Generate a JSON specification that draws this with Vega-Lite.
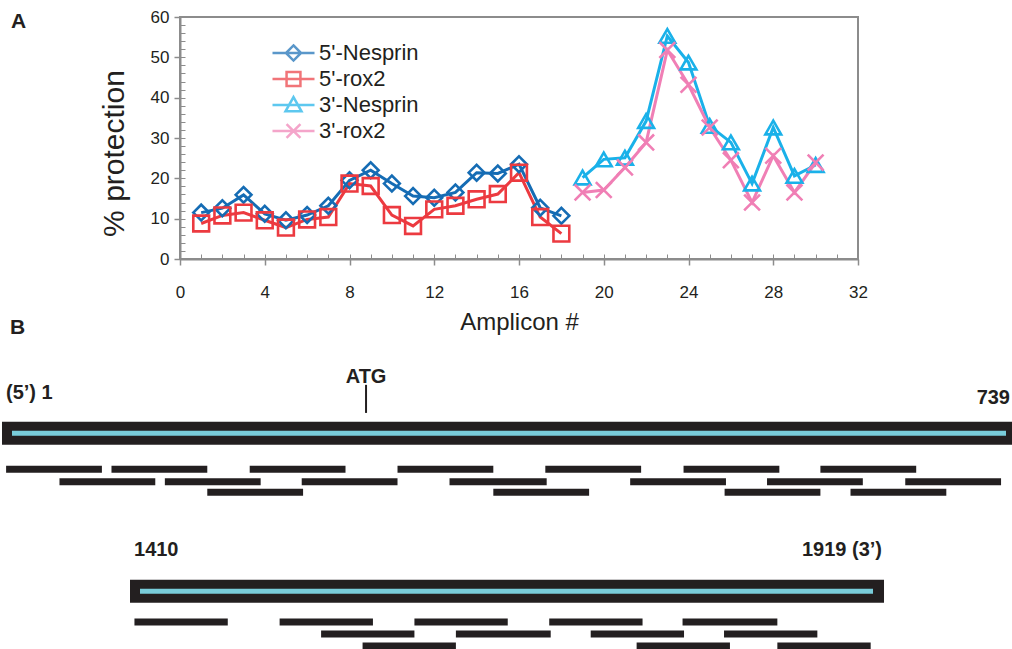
{
  "$schema": "https://vega.github.io/schema/vega-lite/v6.json",
  "padding": {"left": 0, "top": 7, "right": 0, "bottom": 0},
  "autosize": {"type": "pad"},
  "background": "white",
  "config": {"font": "Liberation Sans", "view": {"stroke": null}},
  "datasets": {
    "protection": [
      {"amplicon": 1, "series": "5'-Nesprin", "pct": 11.5},
      {"amplicon": 2, "series": "5'-Nesprin", "pct": 12.6},
      {"amplicon": 3, "series": "5'-Nesprin", "pct": 15.9},
      {"amplicon": 4, "series": "5'-Nesprin", "pct": 11.2},
      {"amplicon": 5, "series": "5'-Nesprin", "pct": 9.6},
      {"amplicon": 6, "series": "5'-Nesprin", "pct": 10.9},
      {"amplicon": 7, "series": "5'-Nesprin", "pct": 13.2},
      {"amplicon": 8, "series": "5'-Nesprin", "pct": 19.5},
      {"amplicon": 9, "series": "5'-Nesprin", "pct": 22.0},
      {"amplicon": 10, "series": "5'-Nesprin", "pct": 18.7},
      {"amplicon": 11, "series": "5'-Nesprin", "pct": 15.6},
      {"amplicon": 12, "series": "5'-Nesprin", "pct": 15.2},
      {"amplicon": 13, "series": "5'-Nesprin", "pct": 16.5},
      {"amplicon": 14, "series": "5'-Nesprin", "pct": 21.4},
      {"amplicon": 15, "series": "5'-Nesprin", "pct": 21.2},
      {"amplicon": 16, "series": "5'-Nesprin", "pct": 23.5},
      {"amplicon": 17, "series": "5'-Nesprin", "pct": 12.7},
      {"amplicon": 18, "series": "5'-Nesprin", "pct": 10.7},
      {"amplicon": 1, "series": "5'-rox2", "pct": 8.8},
      {"amplicon": 2, "series": "5'-rox2", "pct": 10.8},
      {"amplicon": 3, "series": "5'-rox2", "pct": 11.5},
      {"amplicon": 4, "series": "5'-rox2", "pct": 9.6},
      {"amplicon": 5, "series": "5'-rox2", "pct": 7.8},
      {"amplicon": 6, "series": "5'-rox2", "pct": 9.8},
      {"amplicon": 7, "series": "5'-rox2", "pct": 10.4},
      {"amplicon": 8, "series": "5'-rox2", "pct": 18.7},
      {"amplicon": 9, "series": "5'-rox2", "pct": 18.1},
      {"amplicon": 10, "series": "5'-rox2", "pct": 10.9},
      {"amplicon": 11, "series": "5'-rox2", "pct": 8.2},
      {"amplicon": 12, "series": "5'-rox2", "pct": 12.3},
      {"amplicon": 13, "series": "5'-rox2", "pct": 13.2},
      {"amplicon": 14, "series": "5'-rox2", "pct": 14.8},
      {"amplicon": 15, "series": "5'-rox2", "pct": 16.1},
      {"amplicon": 16, "series": "5'-rox2", "pct": 21.4},
      {"amplicon": 17, "series": "5'-rox2", "pct": 10.4},
      {"amplicon": 18, "series": "5'-rox2", "pct": 6.3},
      {"amplicon": 19, "series": "3'-Nesprin", "pct": 20.2},
      {"amplicon": 20, "series": "3'-Nesprin", "pct": 24.7},
      {"amplicon": 21, "series": "3'-Nesprin", "pct": 25.1},
      {"amplicon": 22, "series": "3'-Nesprin", "pct": 34.2},
      {"amplicon": 23, "series": "3'-Nesprin", "pct": 55.3},
      {"amplicon": 24, "series": "3'-Nesprin", "pct": 48.7},
      {"amplicon": 25, "series": "3'-Nesprin", "pct": 33.0},
      {"amplicon": 26, "series": "3'-Nesprin", "pct": 28.9},
      {"amplicon": 27, "series": "3'-Nesprin", "pct": 18.7},
      {"amplicon": 28, "series": "3'-Nesprin", "pct": 32.6},
      {"amplicon": 29, "series": "3'-Nesprin", "pct": 20.6},
      {"amplicon": 30, "series": "3'-Nesprin", "pct": 23.3},
      {"amplicon": 19, "series": "3'-rox2", "pct": 16.5},
      {"amplicon": 20, "series": "3'-rox2", "pct": 17.1},
      {"amplicon": 21, "series": "3'-rox2", "pct": 22.7},
      {"amplicon": 22, "series": "3'-rox2", "pct": 28.9},
      {"amplicon": 23, "series": "3'-rox2", "pct": 51.8},
      {"amplicon": 24, "series": "3'-rox2", "pct": 43.2},
      {"amplicon": 25, "series": "3'-rox2", "pct": 32.6},
      {"amplicon": 26, "series": "3'-rox2", "pct": 24.5},
      {"amplicon": 27, "series": "3'-rox2", "pct": 14.0},
      {"amplicon": 28, "series": "3'-rox2", "pct": 25.6},
      {"amplicon": 29, "series": "3'-rox2", "pct": 16.5},
      {"amplicon": 30, "series": "3'-rox2", "pct": 23.9}
    ],
    "sequences": [
      {"seq": "5'", "start": 1, "end": 739, "lane": 0},
      {"seq": "3'", "start": 1410, "end": 1919, "lane": 13.18}
    ],
    "amplicons": [
      {"seq": "5'", "amplicon": 1, "start": 4, "end": 74, "lane": 3},
      {"seq": "5'", "amplicon": 2, "start": 43, "end": 113, "lane": 4.05},
      {"seq": "5'", "amplicon": 3, "start": 81, "end": 151, "lane": 3},
      {"seq": "5'", "amplicon": 4, "start": 120, "end": 190, "lane": 4.05},
      {"seq": "5'", "amplicon": 5, "start": 151, "end": 221, "lane": 4.92},
      {"seq": "5'", "amplicon": 6, "start": 182, "end": 252, "lane": 3},
      {"seq": "5'", "amplicon": 7, "start": 220, "end": 290, "lane": 4.05},
      {"seq": "5'", "amplicon": 8, "start": 290, "end": 360, "lane": 3},
      {"seq": "5'", "amplicon": 9, "start": 328, "end": 399, "lane": 4.05},
      {"seq": "5'", "amplicon": 10, "start": 360, "end": 430, "lane": 4.92},
      {"seq": "5'", "amplicon": 11, "start": 398, "end": 468, "lane": 3},
      {"seq": "5'", "amplicon": 12, "start": 460, "end": 530, "lane": 4.05},
      {"seq": "5'", "amplicon": 13, "start": 499, "end": 569, "lane": 3},
      {"seq": "5'", "amplicon": 14, "start": 529, "end": 599, "lane": 4.92},
      {"seq": "5'", "amplicon": 15, "start": 560, "end": 630, "lane": 4.05},
      {"seq": "5'", "amplicon": 16, "start": 599, "end": 669, "lane": 3},
      {"seq": "5'", "amplicon": 17, "start": 621, "end": 691, "lane": 4.92},
      {"seq": "5'", "amplicon": 18, "start": 661, "end": 731, "lane": 4.05},
      {"seq": "3'", "amplicon": 19, "start": 1413, "end": 1476, "lane": 15.73},
      {"seq": "3'", "amplicon": 20, "start": 1511, "end": 1574, "lane": 15.73},
      {"seq": "3'", "amplicon": 21, "start": 1539, "end": 1602, "lane": 16.73},
      {"seq": "3'", "amplicon": 22, "start": 1567, "end": 1630, "lane": 17.73},
      {"seq": "3'", "amplicon": 23, "start": 1602, "end": 1665, "lane": 15.73},
      {"seq": "3'", "amplicon": 24, "start": 1630, "end": 1694, "lane": 16.73},
      {"seq": "3'", "amplicon": 25, "start": 1693, "end": 1756, "lane": 15.73},
      {"seq": "3'", "amplicon": 26, "start": 1721, "end": 1784, "lane": 16.73},
      {"seq": "3'", "amplicon": 27, "start": 1752, "end": 1815, "lane": 17.73},
      {"seq": "3'", "amplicon": 28, "start": 1783, "end": 1847, "lane": 15.73},
      {"seq": "3'", "amplicon": 29, "start": 1811, "end": 1874, "lane": 16.73},
      {"seq": "3'", "amplicon": 30, "start": 1847, "end": 1910, "lane": 17.73}
    ],
    "labels": [
      {"seq": "5'", "role": "start", "text": "(5’) 1", "pos": 1, "lane": -2.86},
      {"seq": "5'", "role": "end", "text": "739", "pos": 739, "lane": -2.44},
      {"seq": "3'", "role": "start", "text": "1410", "pos": 1410, "lane": 10.23},
      {"seq": "3'", "role": "end", "text": "1919 (3’)", "pos": 1919, "lane": 10.23}
    ],
    "features": [
      {"seq": "5'", "name": "ATG", "pos": 267, "textLane": -4.19, "tickTop": -4.03, "tickBottom": -1.69}
    ]
  },
  "spacing": -18,
  "vconcat": [
    {
      "spacing": 0,
      "hconcat": [
        {
          "width": 10,
          "height": 242,
          "view": {"stroke": null},
          "data": {"values": []},
          "mark": {"type": "point", "opacity": 0}
        },
        {
          "width": 678,
          "height": 242,
          "view": {"stroke": "#8c8c8c", "strokeWidth": 2},
          "title": {"text": "A", "anchor": "start", "frame": "group", "dx": -169, "dy": 41, "offset": 0, "baseline": "alphabetic", "fontSize": 21, "fontWeight": "bold", "font": "Liberation Sans", "color": "#231f20"},
          "data": {"name": "protection"},
          "encoding": {
            "x": {"field": "amplicon", "type": "quantitative", "scale": {"domain": [0, 32], "nice": false},
              "axis": {"orient": "bottom", "values": [0, 4, 8, 12, 16, 20, 24, 28, 32], "title": "Amplicon #", "titleFontSize": 24, "titleFontWeight": "normal", "titleColor": "#231f20", "titlePadding": 10, "labelFontSize": 17, "labelColor": "#231f20", "labelPadding": 19, "labelFlush": false, "tickSize": 6, "tickColor": "#8c8c8c", "tickWidth": 1.5, "domainColor": "#8c8c8c", "domainWidth": 2, "grid": false}},
            "y": {"field": "pct", "type": "quantitative", "scale": {"domain": [0, 60], "nice": false},
              "axis": {"orient": "left", "values": [0, 10, 20, 30, 40, 50, 60], "title": "% protection", "titleFontSize": 30, "titleFontWeight": "normal", "titleColor": "#231f20", "titleX": -57, "titleY": 136, "titleAngle": 270, "titleBaseline": "alphabetic", "titleAlign": "center", "labelFontSize": 17, "labelColor": "#231f20", "labelPadding": 5, "tickSize": 6, "tickColor": "#8c8c8c", "tickWidth": 1.5, "domainColor": "#8c8c8c", "domainWidth": 2, "grid": false}},
            "color": {"field": "series", "type": "nominal", "scale": {"domain": ["5'-Nesprin", "5'-rox2", "3'-Nesprin", "3'-rox2"], "range": ["#156cb4", "#ec3a40", "#1ab1e9", "#f07fb5"]}, "legend": null}
          },
          "layer": [
            {"mark": {"type": "line", "strokeWidth": 3}},
            {
              "mark": {"type": "point", "filled": false, "strokeWidth": 2.6, "size": 250, "opacity": 1},
              "encoding": {
                "x": {"field": "amplicon", "type": "quantitative", "scale": {"domain": [0, 32], "nice": false},
                  "axis": {"orient": "bottom", "values": [0,1,2,3,4,5,6,7,8,9,10,11,12,13,14,15,16,17,18,19,20,21,22,23,24,25,26,27,28,29,30,31,32], "labels": false, "domain": false, "grid": false, "tickSize": -5, "tickColor": "#8c8c8c", "tickWidth": 1, "title": null}},
                "y": {"field": "pct", "type": "quantitative", "scale": {"domain": [0, 60], "nice": false},
                  "axis": {"orient": "left", "values": [0,2,4,6,8,10,12,14,16,18,20,22,24,26,28,30,32,34,36,38,40,42,44,46,48,50,52,54,56,58,60], "labels": false, "domain": false, "grid": false, "tickSize": -5, "tickColor": "#8c8c8c", "tickWidth": 1, "title": null}},
                "shape": {"field": "series", "type": "nominal", "scale": {"domain": ["5'-Nesprin", "5'-rox2", "3'-Nesprin", "3'-rox2"], "range": ["diamond", "square", "triangle-up", "M-1,-1L1,1M1,-1L-1,1"]}, "legend": null}
              }
            },
            {
              "transform": [{"filter": "false"}],
              "mark": {"type": "point", "filled": false, "strokeWidth": 2.5, "size": 1764},
              "encoding": {
                "x": {"field": "amplicon", "type": "quantitative", "scale": {"domain": [0, 32], "nice": false}, "axis": null},
                "y": {"field": "pct", "type": "quantitative", "scale": {"domain": [0, 60], "nice": false}, "axis": null},
                "color": {"field": "series", "type": "nominal", "scale": {"domain": ["5'-Nesprin", "5'-rox2", "3'-Nesprin", "3'-rox2"], "range": ["#156cb4", "#ec3a40", "#1ab1e9", "#f07fb5"]},
                  "legend": {"orient": "none", "legendX": 91, "legendY": 23, "title": null, "padding": 0, "clipHeight": 26, "rowPadding": 0, "symbolSize": 1764, "symbolStrokeWidth": 2.5, "symbolOffset": 0, "labelOffset": 3, "labelFontSize": 22, "labelFont": "Liberation Sans", "labelColor": "#231f20", "labelLimit": 300}},
                "shape": {"field": "series", "type": "nominal", "scale": {"domain": ["5'-Nesprin", "5'-rox2", "3'-Nesprin", "3'-rox2"], "range": ["M-1,0L1,0M0,-0.36L0.36,0L0,0.36L-0.36,0Z", "M-1,0L1,0M-0.33,-0.33L0.33,-0.33L0.33,0.33L-0.33,0.33Z", "M-1,0L1,0M0,-0.38L0.38,0.3L-0.38,0.3Z", "M-1,0L1,0M-0.33,-0.33L0.33,0.33M0.33,-0.33L-0.33,0.33"]},
                  "legend": {"orient": "none", "legendX": 91, "legendY": 23, "title": null, "padding": 0, "clipHeight": 26, "rowPadding": 0, "symbolSize": 1764, "symbolStrokeWidth": 2.5, "symbolOffset": 0, "labelOffset": 3, "labelFontSize": 22, "labelFont": "Liberation Sans", "labelColor": "#231f20", "labelLimit": 300}}
              }
            }
          ],
          "resolve": {"scale": {"color": "independent", "shape": "independent"}, "axis": {"x": "independent", "y": "independent"}}
        }
      ]
    },
    {
      "width": 1012,
      "height": 298,
      "view": {"stroke": null},
      "title": {"text": "B", "anchor": "start", "frame": "group", "dx": 10, "dy": 19, "offset": 18, "baseline": "alphabetic", "fontSize": 21, "fontWeight": "bold", "font": "Liberation Sans", "color": "#231f20"},
      "layer": [
        {
          "layer": [
            {
              "data": {"name": "sequences"},
              "transform": [{"filter": "datum.seq === \"5'\""}],
              "mark": {"type": "rect", "height": 23, "color": "#231f20"},
              "encoding": {
                "x": {"field": "start", "type": "quantitative", "scale": {"domain": [-0.461, 739], "nice": false, "zero": false}, "axis": null},
                "x2": {"field": "end"},
                "y": {"field": "lane", "type": "quantitative", "scale": {"domain": [-6.6, 18.233], "nice": false, "zero": false, "reverse": true}, "axis": null}
              }
            },
            {
              "data": {"name": "sequences"},
              "transform": [{"filter": "datum.seq === \"5'\""}],
              "mark": {"type": "rule", "strokeWidth": 5, "color": "#79ccda", "xOffset": 10, "x2Offset": -6},
              "encoding": {
                "x": {"field": "start", "type": "quantitative", "scale": {"domain": [-0.461, 739], "nice": false, "zero": false}, "axis": null},
                "x2": {"field": "end"},
                "y": {"field": "lane", "type": "quantitative", "scale": {"domain": [-6.6, 18.233], "nice": false, "zero": false, "reverse": true}, "axis": null}
              }
            },
            {
              "data": {"name": "amplicons"},
              "transform": [{"filter": "datum.seq === \"5'\""}],
              "mark": {"type": "rule", "strokeWidth": 7, "color": "#231f20"},
              "encoding": {
                "x": {"field": "start", "type": "quantitative", "scale": {"domain": [-0.461, 739], "nice": false, "zero": false}, "axis": null},
                "x2": {"field": "end"},
                "y": {"field": "lane", "type": "quantitative", "scale": {"domain": [-6.6, 18.233], "nice": false, "zero": false, "reverse": true}, "axis": null}
              }
            },
            {
              "data": {"name": "features"},
              "mark": {"type": "rule", "strokeWidth": 2, "color": "#231f20"},
              "encoding": {
                "x": {"field": "pos", "type": "quantitative", "scale": {"domain": [-0.461, 739], "nice": false, "zero": false}, "axis": null},
                "y": {"field": "tickTop", "type": "quantitative", "scale": {"domain": [-6.6, 18.233], "nice": false, "zero": false, "reverse": true}, "axis": null},
                "y2": {"field": "tickBottom"}
              }
            },
            {
              "data": {"name": "features"},
              "mark": {"type": "text", "align": "center", "baseline": "alphabetic", "fontSize": 20, "fontWeight": "bold", "color": "#231f20"},
              "encoding": {
                "x": {"field": "pos", "type": "quantitative", "scale": {"domain": [-0.461, 739], "nice": false, "zero": false}, "axis": null},
                "y": {"field": "textLane", "type": "quantitative", "scale": {"domain": [-6.6, 18.233], "nice": false, "zero": false, "reverse": true}, "axis": null},
                "text": {"field": "name"}
              }
            },
            {
              "data": {"name": "labels"},
              "transform": [{"filter": "datum.seq === \"5'\" && datum.role === 'start'"}],
              "mark": {"type": "text", "align": "left", "baseline": "alphabetic", "dx": 4, "fontSize": 20, "fontWeight": "bold", "color": "#231f20"},
              "encoding": {
                "x": {"field": "pos", "type": "quantitative", "scale": {"domain": [-0.461, 739], "nice": false, "zero": false}, "axis": null},
                "y": {"field": "lane", "type": "quantitative", "scale": {"domain": [-6.6, 18.233], "nice": false, "zero": false, "reverse": true}, "axis": null},
                "text": {"field": "text"}
              }
            },
            {
              "data": {"name": "labels"},
              "transform": [{"filter": "datum.seq === \"5'\" && datum.role === 'end'"}],
              "mark": {"type": "text", "align": "right", "baseline": "alphabetic", "dx": -2, "fontSize": 20, "fontWeight": "bold", "color": "#231f20"},
              "encoding": {
                "x": {"field": "pos", "type": "quantitative", "scale": {"domain": [-0.461, 739], "nice": false, "zero": false}, "axis": null},
                "y": {"field": "lane", "type": "quantitative", "scale": {"domain": [-6.6, 18.233], "nice": false, "zero": false, "reverse": true}, "axis": null},
                "text": {"field": "text"}
              }
            }
          ]
        },
        {
          "layer": [
            {
              "data": {"name": "sequences"},
              "transform": [{"filter": "datum.seq === \"3'\""}],
              "mark": {"type": "rect", "height": 23, "color": "#231f20"},
              "encoding": {
                "x": {"field": "start", "type": "quantitative", "scale": {"domain": [1322.24, 2005.4], "nice": false, "zero": false}, "axis": null},
                "x2": {"field": "end"},
                "y": {"field": "lane", "type": "quantitative", "scale": {"domain": [-6.6, 18.233], "nice": false, "zero": false, "reverse": true}, "axis": null}
              }
            },
            {
              "data": {"name": "sequences"},
              "transform": [{"filter": "datum.seq === \"3'\""}],
              "mark": {"type": "rule", "strokeWidth": 5, "color": "#79ccda", "xOffset": 10, "x2Offset": -11},
              "encoding": {
                "x": {"field": "start", "type": "quantitative", "scale": {"domain": [1322.24, 2005.4], "nice": false, "zero": false}, "axis": null},
                "x2": {"field": "end"},
                "y": {"field": "lane", "type": "quantitative", "scale": {"domain": [-6.6, 18.233], "nice": false, "zero": false, "reverse": true}, "axis": null}
              }
            },
            {
              "data": {"name": "amplicons"},
              "transform": [{"filter": "datum.seq === \"3'\""}],
              "mark": {"type": "rule", "strokeWidth": 7, "color": "#231f20"},
              "encoding": {
                "x": {"field": "start", "type": "quantitative", "scale": {"domain": [1322.24, 2005.4], "nice": false, "zero": false}, "axis": null},
                "x2": {"field": "end"},
                "y": {"field": "lane", "type": "quantitative", "scale": {"domain": [-6.6, 18.233], "nice": false, "zero": false, "reverse": true}, "axis": null}
              }
            },
            {
              "data": {"name": "labels"},
              "transform": [{"filter": "datum.seq === \"3'\" && datum.role === 'start'"}],
              "mark": {"type": "text", "align": "left", "baseline": "alphabetic", "dx": 4, "fontSize": 20, "fontWeight": "bold", "color": "#231f20"},
              "encoding": {
                "x": {"field": "pos", "type": "quantitative", "scale": {"domain": [1322.24, 2005.4], "nice": false, "zero": false}, "axis": null},
                "y": {"field": "lane", "type": "quantitative", "scale": {"domain": [-6.6, 18.233], "nice": false, "zero": false, "reverse": true}, "axis": null},
                "text": {"field": "text"}
              }
            },
            {
              "data": {"name": "labels"},
              "transform": [{"filter": "datum.seq === \"3'\" && datum.role === 'end'"}],
              "mark": {"type": "text", "align": "right", "baseline": "alphabetic", "dx": -2, "fontSize": 20, "fontWeight": "bold", "color": "#231f20"},
              "encoding": {
                "x": {"field": "pos", "type": "quantitative", "scale": {"domain": [1322.24, 2005.4], "nice": false, "zero": false}, "axis": null},
                "y": {"field": "lane", "type": "quantitative", "scale": {"domain": [-6.6, 18.233], "nice": false, "zero": false, "reverse": true}, "axis": null},
                "text": {"field": "text"}
              }
            }
          ]
        }
      ],
      "resolve": {"scale": {"x": "independent"}}
    }
  ]
}
